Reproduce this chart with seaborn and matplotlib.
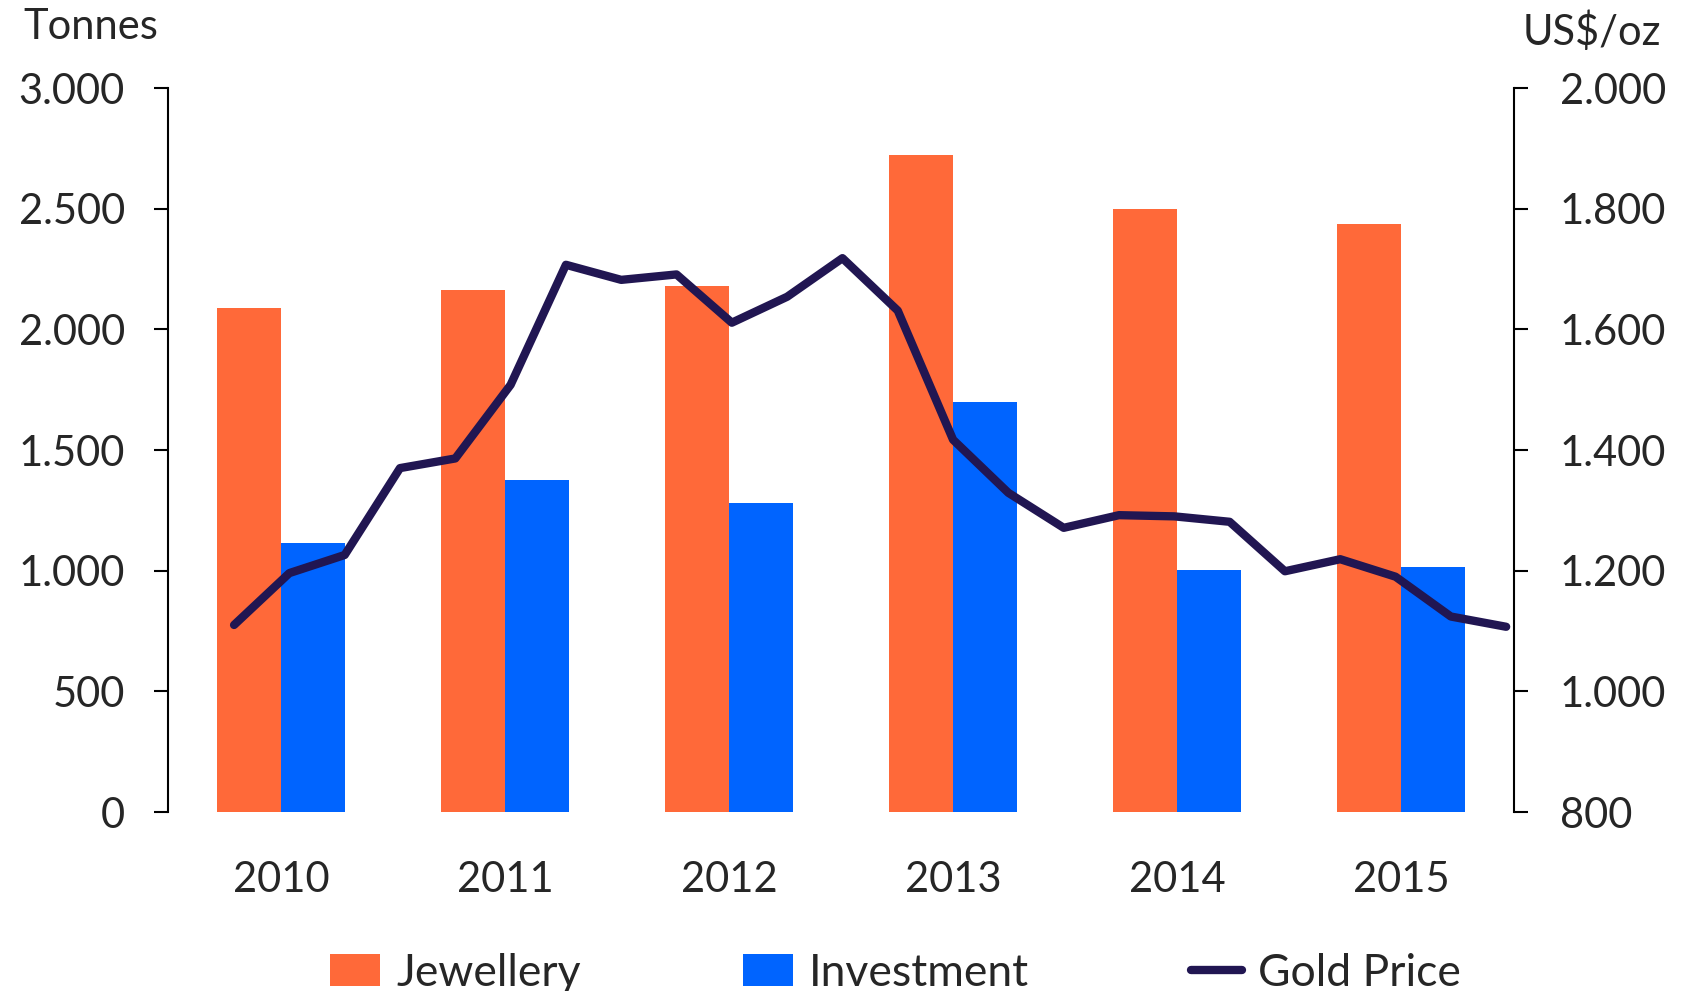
import numpy as np
import pandas as pd
import matplotlib
matplotlib.use("Agg")
import matplotlib.pyplot as plt
from matplotlib.patches import Patch
from matplotlib.lines import Line2D
import seaborn as sns

# Annual gold demand (tonnes)
years = ["2010", "2011", "2012", "2013", "2014", "2015"]
jewellery = [2090, 2161, 2179, 2723, 2500, 2438]
investment = [1114, 1377, 1279, 1698, 1003, 1016]

# Quarterly average gold price (US$/oz), 2010 Q1 - 2015 Q4
gold_price = [1110, 1196, 1226, 1370, 1386, 1508, 1707, 1682,
              1691, 1611, 1654, 1718, 1631, 1417, 1329, 1271,
              1292, 1290, 1281, 1199, 1219, 1190, 1124, 1107]

left_ticks = [0, 500, 1000, 1500, 2000, 2500, 3000]
right_ticks = [800, 1000, 1200, 1400, 1600, 1800, 2000]

ORANGE = "#FF6939"
BLUE = "#0064FF"
NAVY = "#211652"

sns.set_theme(style="white")
plt.rcParams["font.family"] = ["Lato", "DejaVu Sans"]
FS = 30
LW = 6


def dotted_thousands(v):
    return f"{int(v):,}".replace(",", ".")


demand = pd.DataFrame({
    "Year": years * 2,
    "Tonnes": jewellery + investment,
    "Type": ["Jewellery"] * len(years) + ["Investment"] * len(years),
})

fig = plt.figure(figsize=(16.89, 9.91), dpi=100)
ax = fig.add_axes([168 / 1689, 1 - 812 / 991, (1514 - 168) / 1689, (812 - 88) / 991])

sns.barplot(data=demand, x="Year", y="Tonnes", hue="Type",
            palette=[ORANGE, BLUE], width=0.57, gap=0, linewidth=0,
            saturation=1, legend=False, ax=ax)

ax.set_xlim(-0.505, 5.505)
ax.set_ylim(0, 3000)
ax.set_yticks(left_ticks)
ax.set_yticklabels([dotted_thousands(v) for v in left_ticks])
ax.set_xlabel("")
ax.set_ylabel("")
for s in ["top", "right", "bottom"]:
    ax.spines[s].set_visible(False)
ax.spines["left"].set_color("black")
ax.spines["left"].set_linewidth(1.5)
ax.tick_params(axis="y", direction="out", length=10, width=1.5, color="black",
               left=True, labelsize=FS, pad=21)
ax.tick_params(axis="x", length=0, labelsize=FS, pad=35)

# Gold price on a secondary axis, one point per quarter
ax2 = ax.twinx()
qx = np.linspace(-0.21, 5.47, len(gold_price))
sns.lineplot(x=qx, y=gold_price, ax=ax2, color=NAVY, linewidth=LW,
             solid_capstyle="round", solid_joinstyle="round", legend=False)
ax2.set_ylim(800, 2000)
ax2.set_yticks(right_ticks)
ax2.set_yticklabels([dotted_thousands(v) for v in right_ticks])
ax2.set_xlim(-0.505, 5.505)
for s in ["top", "left", "bottom"]:
    ax2.spines[s].set_visible(False)
ax2.spines["right"].set_color("black")
ax2.spines["right"].set_linewidth(1.5)
ax2.tick_params(axis="y", direction="out", length=10, width=1.5, color="black",
                right=True, labelsize=FS, pad=23)
ax2.set_ylabel("")

fig.text(23 / 1689, 1 - 39 / 991, "Tonnes", fontsize=FS, ha="left", va="baseline")
fig.text(1523 / 1689, 1 - 45 / 991, "US$/oz", fontsize=FS, ha="left", va="baseline")

handles = [
    Patch(facecolor=ORANGE, edgecolor="none"),
    Patch(facecolor=BLUE, edgecolor="none"),
    Line2D([0], [0], color=NAVY, linewidth=LW, solid_capstyle="round"),
]
fig.legend(handles, ["Jewellery", "Investment", "Gold Price"], ncol=3,
           loc="center", bbox_to_anchor=(0.53, 1 - 973 / 991), frameon=False,
           fontsize=32, handlelength=1.14, handleheight=0.7, handletextpad=0.36,
           columnspacing=3.64, borderaxespad=0, borderpad=0)

fig.savefig("out.png", dpi=100, facecolor="white")
